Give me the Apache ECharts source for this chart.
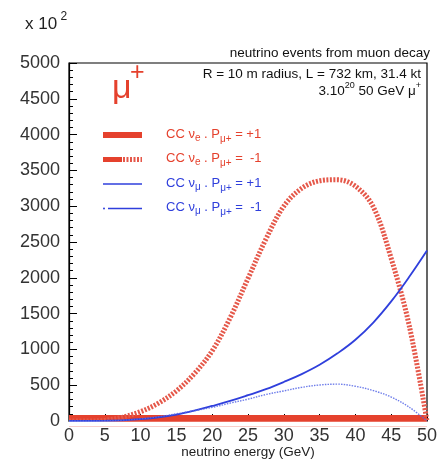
<!DOCTYPE html>
<html>
<head>
<meta charset="utf-8">
<script src="https://cdn.jsdelivr.net/npm/echarts@6/dist/echarts.min.js"></script>
<style>
  html, body { margin: 0; padding: 0; background: #fff; }
  #chart { width: 439px; height: 459px; }
</style>
</head>
<body>
<div id="chart"></div>
<script>
// Neutrino energy grid (GeV)
const energy = [0, 2.5, 5, 7.5, 10, 12.5, 15, 17.5, 20, 22.5, 25,
                27.5, 30, 32.5, 35, 37.5, 40, 42.5, 45, 47.5, 50];

// Event counts (units of 10^2)
const nueP1  = [0, 0, 0, 0, 0, 0, 0, 0, 0, 0, 0,
                0, 0, 0, 0, 0, 0, 0, 0, 0, 0];
const nueM1  = [0, 0, 10, 55, 130, 250, 420, 660, 980, 1440, 1990,
                2540, 3000, 3250, 3355, 3370, 3280, 2990, 2270, 1340, 0];
const numuP1 = [0, 0, 3, 10, 25, 50, 90, 145, 210, 280, 360,
                445, 545, 655, 785, 945, 1135, 1375, 1670, 2010, 2380];
const numuM1 = [0, 0, 3, 12, 30, 60, 100, 145, 190, 250, 305,
                370, 420, 470, 503, 515, 485, 425, 335, 195, 0];

const xTicks = [0, 5, 10, 15, 20, 25, 30, 35, 40, 45, 50];
const yTicks = [0, 500, 1000, 1500, 2000, 2500, 3000, 3500, 4000, 4500, 5000];

const RED = '#e5412d';
const BLUE = '#2f3fdc';
const FONT = '"Liberation Sans", Arial, Helvetica, sans-serif';

const GRID = { left: 69, right: 12, top: 63, bottom: 38 };
const W = 439, H = 459;

const pairs = (ys) => energy.map((e, i) => [e, ys[i]]);

// measure text widths so mixed-size runs (sub/superscripts) can be laid out
const mctx = document.createElement('canvas').getContext('2d');
function tw(t, size) { mctx.font = size + 'px ' + FONT; return mctx.measureText(t).width; }
function run(x, y, pieces, color, align) {
  const total = pieces.reduce((w, p) => w + tw(p[0], p[1]), 0);
  let cx = align === 'right' ? x - total : x;
  return pieces.map(p => {
    const el = {
      type: 'text', x: cx, y: y + (p[2] || 0), silent: true, z: 100,
      style: { text: p[0], font: p[1] + 'px ' + FONT, fill: color,
               align: 'left', verticalAlign: 'middle',
               textAlign: 'left', textVerticalAlign: 'middle' }
    };
    cx += tw(p[0], p[1]);
    return el;
  });
}

const legendRows = [
  { y: 134, sub: 'e', sign: '= +1' },
  { y: 158.5, sub: 'e', sign: '=  -1' },
  { y: 183, sub: 'μ', sign: '= +1' },
  { y: 207.5, sub: 'μ', sign: '=  -1' }
];
const legendColors = [RED, RED, BLUE, BLUE];

const graphics = [];
// the P=+1 electron-neutrino band sits on the zero line; mask the half that would fall below the frame
graphics.push({ type: 'rect', z: 50, silent: true,
  shape: { x: GRID.left - 2, y: H - GRID.bottom + 0.7, width: W - GRID.left - GRID.right + 4, height: 5 },
  style: { fill: '#fff' } });
// axis scale note
graphics.push(...run(25, 24, [['x 10', 17, 0], [' 2', 12, -7]], '#222', 'left'));
// header texts
graphics.push(...run(430, 53, [['neutrino events from muon decay', 13.5, 0]], '#111', 'right'));
graphics.push(...run(421, 74.5, [['R = 10 m radius, L = 732 km, 31.4 kt', 13.5, 0]], '#111', 'right'));
graphics.push(...run(421, 91, [['3.10', 13.5, 0], ['20', 9, -5], [' 50 GeV μ', 13.5, 0], ['+', 9, -5]], '#111', 'right'));
// big mu+ label
graphics.push(...run(112, 89, [['μ', 34, 0]], RED, 'left'));
graphics.push(...run(130, 73, [['+', 25, 0]], RED, 'left'));

// legend
legendRows.forEach((r, i) => {
  graphics.push(...run(166, r.y, [['CC ν', 13, 0], [r.sub, 10, 4], [' . P', 13, 0], ['μ+', 10, 5], [' ' + r.sign, 13, 0]], legendColors[i], 'left'));
});
const ly = legendRows.map(r => r.y + 1);
graphics.push({ type: 'rect', z: 100, shape: { x: 103, y: ly[0] - 3, width: 39, height: 6 }, style: { fill: RED }, silent: true });
graphics.push({ type: 'rect', z: 100, shape: { x: 103, y: ly[1] - 2.5, width: 19, height: 5 }, style: { fill: RED }, silent: true });
graphics.push({ type: 'line', z: 100, shape: { x1: 123, y1: ly[1], x2: 142, y2: ly[1] }, style: { stroke: '#e5584a', lineWidth: 5, lineDash: [2, 1.5] }, silent: true });
graphics.push({ type: 'line', z: 100, shape: { x1: 103, y1: ly[2], x2: 142, y2: ly[2] }, style: { stroke: BLUE, lineWidth: 1.5 }, silent: true });
graphics.push({ type: 'circle', z: 100, shape: { cx: 104, cy: ly[3], r: 1 }, style: { fill: BLUE }, silent: true });
graphics.push({ type: 'line', z: 100, shape: { x1: 108, y1: ly[3], x2: 142, y2: ly[3] }, style: { stroke: BLUE, lineWidth: 1.3 }, silent: true });

const chart = echarts.init(document.getElementById('chart'), null, { renderer: 'canvas' });
chart.setOption({
  animation: false,
  backgroundColor: '#fff',
  textStyle: { fontFamily: FONT },
  grid: { left: GRID.left, right: GRID.right, top: GRID.top, bottom: GRID.bottom,
          containLabel: false, outerBoundsMode: 'none',
          show: true, borderColor: '#000', borderWidth: 1.2, backgroundColor: 'transparent' },
  xAxis: {
    type: 'value', min: xTicks[0], max: xTicks[xTicks.length - 1], interval: 5,
    name: 'neutrino energy (GeV)', nameLocation: 'middle', nameGap: 24, nameMoveOverlap: false,
    nameTextStyle: { fontSize: 13.5, color: '#222', fontFamily: FONT },
    axisLine: { lineStyle: { color: '#000', width: 1.2 } },
    axisTick: { inside: true, length: 7, lineStyle: { color: '#000' } },
    axisLabel: { fontSize: 18, color: '#333', margin: 6, fontFamily: FONT,
                 formatter: v => xTicks.includes(v) ? String(v) : '' },
    splitLine: { show: false }
  },
  yAxis: {
    type: 'value', min: yTicks[0], max: yTicks[yTicks.length - 1], interval: 500,
    axisLine: { show: true, lineStyle: { color: '#000', width: 1.2 } },
    axisTick: { show: true, inside: true, length: 8, lineStyle: { color: '#000' } },
    minorTick: { show: true, splitNumber: 5, length: 4, lineStyle: { color: '#000' } },
    axisLabel: { fontSize: 18, color: '#333', margin: 9, fontFamily: FONT,
                 formatter: v => yTicks.includes(v) ? String(v) : '' },
    splitLine: { show: false }
  },
  series: [
    { name: 'CC nue P=+1', type: 'line', data: pairs(nueP1), showSymbol: false, clip: true,
      lineStyle: { color: RED, width: 12 }, z: 2 },
    { name: 'CC nue P=-1', type: 'line', data: pairs(nueM1), showSymbol: false, smooth: 0.35, clip: true,
      lineStyle: { color: '#e5584a', width: 5, type: [2, 1.5], cap: 'butt' }, z: 3 },
    { name: 'CC numu P=+1', type: 'line', data: pairs(numuP1), showSymbol: false, smooth: 0.4, clip: true,
      lineStyle: { color: BLUE, width: 1.8 }, z: 4 },
    { name: 'CC numu P=-1', type: 'line', data: pairs(numuM1), showSymbol: false, smooth: 0.35, clip: true,
      lineStyle: { color: '#5566e6', width: 1.4, type: [1.5, 1.2], opacity: 0.85 }, z: 4 }
  ],
  graphic: graphics
});
</script>
</body>
</html>
